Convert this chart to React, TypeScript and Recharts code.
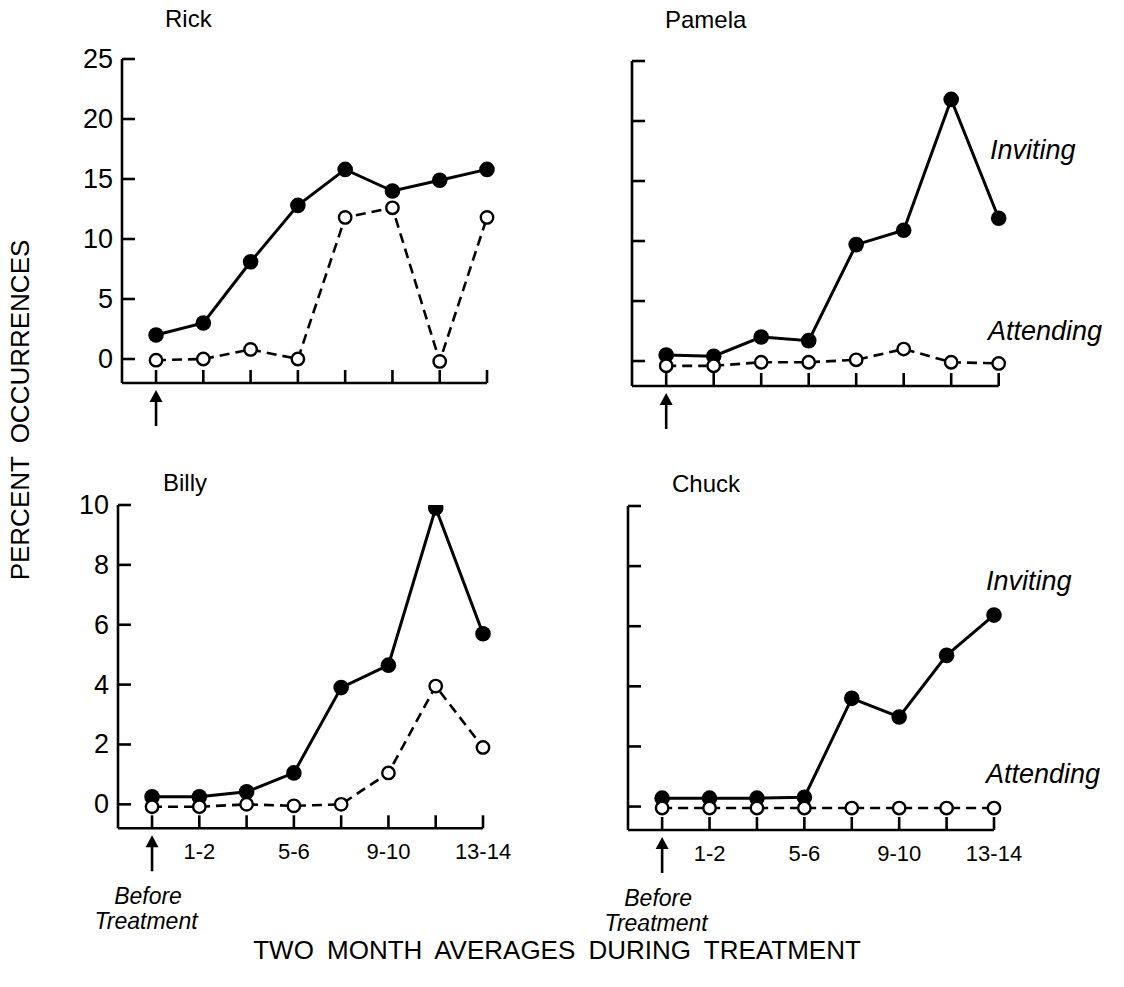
import React from 'react';
import { LineChart, Line, XAxis, YAxis } from 'recharts';

// two-month periods, index 0 = before treatment
const periods = ['Before', '1-2', '3-4', '5-6', '7-8', '9-10', '11-12', '13-14'];
const shownPeriods = ['1-2', '5-6', '9-10', '13-14'];

const rickInviting = [2.0, 3.0, 8.1, 12.8, 15.8, 14.0, 14.9, 15.8];
const rickAttending = [-0.1, 0, 0.8, 0, 11.8, 12.6, -0.2, 11.8];
const pamelaInviting = [0.5, 0.4, 2.0, 1.7, 9.7, 10.9, 21.8, 11.9];
const pamelaAttending = [-0.4, -0.4, -0.1, -0.1, 0.1, 1.0, -0.1, -0.2];
const billyInviting = [0.25, 0.25, 0.42, 1.05, 3.9, 4.65, 9.9, 5.7];
const billyAttending = [-0.08, -0.08, 0, -0.05, 0, 1.05, 3.95, 1.9];
const chuckInviting = [0.28, 0.28, 0.28, 0.31, 3.6, 2.98, 5.03, 6.37];
const chuckAttending = [-0.05, -0.05, -0.05, -0.05, -0.05, -0.05, -0.05, -0.05];

const topTicks = [0, 5, 10, 15, 20, 25];
const bottomTicks = [0, 2, 4, 6, 8, 10];

const FONT = '"Liberation Sans", Arial, sans-serif';
const Y_AXIS_W = 80;
const M_TOP = 20;
const X_AXIS_H = 130;
const M_RIGHT = 50;

const YTick = (props: any) => {
  const { x, y, payload, showLabel } = props;
  return (
    <g>
      <line x1={x} y1={y} x2={x + 13} y2={y} stroke="#000" strokeWidth={2.6} />
      {showLabel && (
        <text x={x - 9} y={y} textAnchor="end" dominantBaseline="central" fontSize={27} fill="#000">
          {payload.value}
        </text>
      )}
    </g>
  );
};

const XTick = (props: any) => {
  const { x, y, payload, showLabel } = props;
  const period = periods[payload.value];
  const labelIt = showLabel && shownPeriods.includes(period);
  const first = payload.value === 0;
  return (
    <g>
      <line x1={x} y1={y} x2={x} y2={y - 13} stroke="#000" strokeWidth={2.6} />
      {labelIt && (
        <text x={x} y={y + 23} textAnchor="middle" dominantBaseline="central" fontSize={22} fill="#000">
          {period}
        </text>
      )}
      {first && (
        <g>
          <line x1={x} y1={y + 16} x2={x} y2={y + 43} stroke="#000" strokeWidth={2.6} />
          <path d={`M ${x - 6.5} ${y + 19} L ${x} ${y + 7} L ${x + 6.5} ${y + 19} Z`} fill="#000" />
        </g>
      )}
      {first && showLabel && (
        <text textAnchor="middle" fontSize={23} fontStyle="italic" fill="#000">
          <tspan x={x - 4} y={y + 76}>Before</tspan>
          <tspan x={x - 6} y={y + 101}>Treatment</tspan>
        </text>
      )}
    </g>
  );
};

interface PanelProps {
  inviting: number[];
  attending: number[];
  ticks: number[];
  yMin: number;
  left: number;
  right: number;
  top: number;
  bottom: number;
  showYLabels: boolean;
  showXLabels: boolean;
}

const Panel = ({ inviting, attending, ticks, yMin, left, right, top, bottom, showYLabels, showXLabels }: PanelProps) => {
  const data = periods.map((p, i) => ({ idx: i, period: p, inviting: inviting[i], attending: attending[i] }));
  const width = Y_AXIS_W + (right - left) + M_RIGHT;
  const height = M_TOP + (bottom - top) + X_AXIS_H;
  return (
    <div style={{ position: 'absolute', left: left - Y_AXIS_W, top: top - M_TOP }}>
      <LineChart width={width} height={height} data={data} margin={{ top: M_TOP, right: M_RIGHT, bottom: 0, left: 0 }}>
        <XAxis
          dataKey="idx"
          type="number"
          domain={[-0.72, 7]}
          ticks={periods.map((_, i) => i)}
          interval={0}
          height={X_AXIS_H}
          axisLine={{ stroke: '#000', strokeWidth: 2.6 }}
          tickLine={false}
          tickSize={0}
          tickMargin={0}
          tick={(p: any) => <XTick {...p} showLabel={showXLabels} />}
        />
        <YAxis
          type="number"
          domain={[yMin, ticks[ticks.length - 1]]}
          ticks={ticks}
          interval={0}
          allowDataOverflow
          width={Y_AXIS_W}
          axisLine={{ stroke: '#000', strokeWidth: 2.6 }}
          tickLine={false}
          tickSize={0}
          tickMargin={0}
          tick={(p: any) => <YTick {...p} showLabel={showYLabels} />}
        />
        <Line
          dataKey="inviting"
          stroke="#000"
          strokeWidth={3}
          isAnimationActive={false}
          dot={(p: any) => <circle key={`i-${p.index}`} cx={p.cx} cy={p.cy} r={7.8} fill="#000" stroke="none" />}
        />
        <Line
          dataKey="attending"
          stroke="#000"
          strokeWidth={2.6}
          strokeDasharray="10 6"
          isAnimationActive={false}
          dot={(p: any) => (
            <circle key={`a-${p.index}`} cx={p.cx} cy={p.cy} r={6.2} fill="#fff" stroke="#000" strokeWidth={2.4} />
          )}
        />
      </LineChart>
    </div>
  );
};

const Label = ({ x, y, text, size, italic }: any) => (
  <div
    style={{
      position: 'absolute',
      left: x,
      top: y,
      transform: 'translate(0, -50%)',
      fontSize: size,
      fontStyle: italic ? 'italic' : 'normal',
      lineHeight: 1,
      whiteSpace: 'nowrap',
      color: '#000',
    }}
  >
    {text}
  </div>
);

export default function App() {
  return (
    <div
      style={{
        position: 'absolute',
        left: 0,
        top: 0,
        width: 1124,
        height: 987,
        background: '#fff',
        fontFamily: FONT,
        overflow: 'hidden',
      }}
    >
      <Panel inviting={rickInviting} attending={rickAttending} ticks={topTicks} yMin={-2}
        left={121.7} right={486.7} top={59.3} bottom={383.3} showYLabels showXLabels={false} />
      <Panel inviting={pamelaInviting} attending={pamelaAttending} ticks={topTicks} yMin={-2.08}
        left={632.3} right={999} top={60.7} bottom={385.7} showYLabels={false} showXLabels={false} />
      <Panel inviting={billyInviting} attending={billyAttending} ticks={bottomTicks} yMin={-0.8}
        left={118.3} right={483.3} top={505} bottom={828.3} showYLabels showXLabels />
      <Panel inviting={chuckInviting} attending={chuckAttending} ticks={bottomTicks} yMin={-0.78}
        left={628.3} right={994.3} top={506} bottom={830} showYLabels={false} showXLabels />

      <Label x={165} y={19} text="Rick" size={24} />
      <Label x={665} y={20} text="Pamela" size={24} />
      <Label x={163} y={483} text="Billy" size={24} />
      <Label x={672} y={484} text="Chuck" size={24} />

      <Label x={990} y={150} text="Inviting" size={27} italic />
      <Label x={988} y={331} text="Attending" size={27} italic />
      <Label x={986} y={581} text="Inviting" size={27} italic />
      <Label x={986} y={774} text="Attending" size={27} italic />

      <div
        style={{
          position: 'absolute',
          left: 20,
          top: 410,
          transform: 'translate(-50%, -50%) rotate(-90deg)',
          fontSize: 26,
          lineHeight: 1,
          whiteSpace: 'nowrap',
          wordSpacing: 6,
        }}
      >
        PERCENT OCCURRENCES
      </div>
      <div
        style={{
          position: 'absolute',
          left: 557,
          top: 950,
          transform: 'translate(-50%, -50%)',
          fontSize: 26,
          lineHeight: 1,
          whiteSpace: 'nowrap',
          wordSpacing: 6,
        }}
      >
        TWO MONTH AVERAGES DURING TREATMENT
      </div>
    </div>
  );
}
